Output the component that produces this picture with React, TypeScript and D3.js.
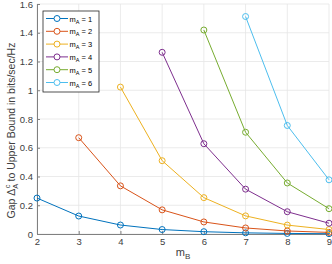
import { useEffect, useRef } from 'react';
import * as d3 from 'd3';

const mB = [2, 3, 4, 5, 6, 7, 8, 9];
const seriesNames = ['1', '2', '3', '4', '5', '6'];
const colors = ['#0072BD', '#D95319', '#EDB120', '#7E2F8E', '#77AC30', '#4DBEEE'];

// one array per m_A, starting at m_B = m_A + 1
const gap1 = [0.25, 0.125, 0.0625, 0.031, 0.016, 0.008, 0.004, 0.002];
const gap2 = [0.67, 0.335, 0.168, 0.084, 0.042, 0.021, 0.011];
const gap3 = [1.022, 0.51, 0.253, 0.126, 0.062, 0.031];
const gap4 = [1.264, 0.628, 0.312, 0.155, 0.075];
const gap5 = [1.419, 0.708, 0.355, 0.176];
const gap6 = [1.513, 0.755, 0.377];
const gaps = [gap1, gap2, gap3, gap4, gap5, gap6];

const yTicks = [0, 0.2, 0.4, 0.6, 0.8, 1, 1.2, 1.4, 1.6];

export default function App() {
  const ref = useRef<SVGSVGElement>(null);

  useEffect(() => {
    const W = 332;
    const H = 264;
    const margin = { top: 4, right: 3, bottom: 30, left: 37 };
    const width = W - margin.left - margin.right;
    const height = H - margin.top - margin.bottom;
    const font = 'Liberation Sans, Arial, sans-serif';

    const root = d3.select(ref.current);
    root.selectAll('*').remove();

    const svg = root
      .append('g')
      .attr('transform', `translate(${margin.left},${margin.top})`)
      .style('font-family', font);

    const x = d3.scaleLinear().domain([2, 9]).range([0, width]);
    const y = d3.scaleLinear().domain([0, 1.6]).range([height, 0]);

    // grid
    svg
      .append('g')
      .selectAll('line')
      .data(mB)
      .join('line')
      .attr('x1', (d) => x(d))
      .attr('x2', (d) => x(d))
      .attr('y1', 0)
      .attr('y2', height)
      .attr('stroke', '#e6e6e6')
      .attr('stroke-width', 0.8);
    svg
      .append('g')
      .selectAll('line')
      .data(yTicks)
      .join('line')
      .attr('x1', 0)
      .attr('x2', width)
      .attr('y1', (d) => y(d))
      .attr('y2', (d) => y(d))
      .attr('stroke', '#e6e6e6')
      .attr('stroke-width', 0.8);

    // axes
    const xAxis = svg
      .append('g')
      .attr('transform', `translate(0,${height})`)
      .call(d3.axisBottom(x).tickValues(mB).tickFormat(d3.format('d')).tickSizeInner(-3).tickSizeOuter(0).tickPadding(4));
    const yAxis = svg
      .append('g')
      .call(d3.axisLeft(y).tickValues(yTicks).tickFormat((d) => `${d}`).tickSizeInner(-3).tickSizeOuter(0).tickPadding(4));

    [xAxis, yAxis].forEach((a) => {
      a.select('.domain').attr('stroke', '#808080').attr('stroke-width', 1);
      a.selectAll('.tick line').attr('stroke', '#808080');
      a.selectAll('.tick text').attr('fill', '#404040').style('font-size', '9.5px').style('font-family', font);
    });

    // series
    const lineGen = d3
      .line<{ xv: number; yv: number }>()
      .x((d) => x(d.xv))
      .y((d) => y(d.yv));

    gaps.forEach((vals, s) => {
      const pts = vals.map((v, i) => ({ xv: mB[s + i], yv: v }));
      const g = svg.append('g');
      g.append('path')
        .datum(pts)
        .attr('fill', 'none')
        .attr('stroke', colors[s])
        .attr('stroke-width', 1)
        .attr('d', lineGen);
      g.selectAll('circle')
        .data(pts)
        .join('circle')
        .attr('cx', (d) => x(d.xv))
        .attr('cy', (d) => y(d.yv))
        .attr('r', 3)
        .attr('fill', 'none')
        .attr('stroke', colors[s])
        .attr('stroke-width', 1);
    });

    // labels
    const xl = svg
      .append('text')
      .attr('x', width / 2)
      .attr('y', height + 22)
      .attr('text-anchor', 'middle')
      .attr('fill', '#404040')
      .style('font-size', '11px');
    xl.append('tspan').text('m');
    xl.append('tspan').attr('dy', 3).style('font-size', '8px').text('B');

    const yl = svg
      .append('text')
      .attr('transform', `translate(${-22},${y(0.72)}) rotate(-90)`)
      .attr('text-anchor', 'middle')
      .attr('fill', '#404040')
      .style('font-size', '10.5px');
    yl.append('tspan').text('Gap Δ');
    yl.append('tspan').attr('dy', 2.5).style('font-size', '7.5px').text('A');
    yl.append('tspan').attr('dy', -8).attr('dx', -4.5).style('font-size', '7.5px').text('c');
    yl.append('tspan').attr('dy', 5.5).text(' to Upper Bound in bits/sec/Hz');

    // legend
    const lg = svg.append('g').attr('transform', `translate(${43 - margin.left},${11 - margin.top})`);
    lg.append('rect')
      .attr('width', 56)
      .attr('height', 81)
      .attr('fill', 'white')
      .attr('stroke', '#262626')
      .attr('stroke-width', 0.8);
    seriesNames.forEach((n, i) => {
      const row = lg.append('g').attr('transform', `translate(0,${7.5 + i * 12.8})`);
      row.append('line').attr('x1', 3).attr('x2', 25).attr('stroke', colors[i]).attr('stroke-width', 1);
      row.append('circle').attr('cx', 14).attr('r', 3).attr('fill', 'white').attr('stroke', colors[i]);
      const t = row
        .append('text')
        .attr('x', 26.5)
        .attr('y', 3)
        .attr('fill', '#000')
        .style('font-size', '7.5px');
      t.append('tspan').text('m');
      t.append('tspan').attr('dy', 2).style('font-size', '5.5px').text('A');
      t.append('tspan').attr('dy', -2).text(` = ${n}`);
    });
  }, []);

  return <svg ref={ref} width={332} height={264} style={{ position: 'absolute', left: 0, top: 0 }} />;
}
